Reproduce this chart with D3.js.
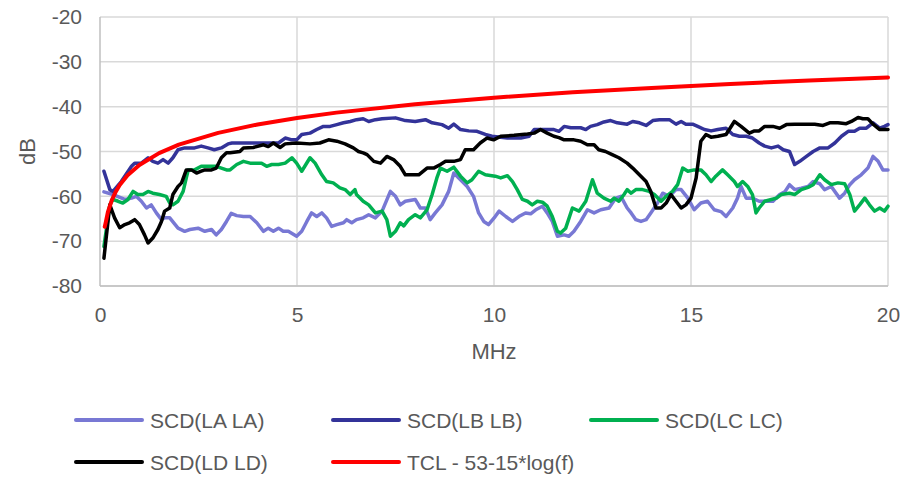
<!DOCTYPE html>
<html><head><meta charset="utf-8">
<script src="https://cdn.jsdelivr.net/npm/d3@7"></script>
<style>body{margin:0;background:#fff}svg{display:block}text{font-family:"Liberation Sans",Arial,sans-serif;fill:#595959}</style>
</head><body>
<svg id="c" width="903" height="480"></svg>
<script>
const xTicks = [0, 5, 10, 15, 20];
const yTicks = [-20, -30, -40, -50, -60, -70, -80];
const seriesNames = ["SCD(LA LA)", "SCD(LB LB)", "SCD(LC LC)", "SCD(LD LD)", "TCL - 53-15*log(f)"];
const seriesColors = ["#7878D4", "#333399", "#00B050", "#000000", "#FF0000"];

const scdLA = [[0.1,-59],[0.33,-59.6],[0.63,-60.7],[0.8,-60.4],[0.92,-60],[1.05,-61.1],[1.18,-62.6],[1.3,-61.9],[1.43,-63.7],[1.56,-65.2],[1.64,-64.8],[1.77,-64.8],[1.98,-67.1],[2.15,-67.8],[2.28,-67.4],[2.49,-67.1],[2.66,-67.8],[2.83,-67.4],[2.95,-68.6],[3.08,-67.4],[3.21,-65.6],[3.33,-63.8],
[3.47,-64.3],[3.64,-64.5],[3.81,-64.5],[3.98,-65.9],[4.15,-67.8],[4.27,-67.1],[4.40,-67.8],[4.53,-67.1],[4.65,-67.8],[4.78,-67.8],[4.99,-68.9],[5.12,-67.8],[5.25,-65.6],[5.37,-63.7],[5.50,-64.5],[5.63,-63.7],[5.75,-64.8],[5.88,-66.7],[6.01,-66.3],[6.18,-65.9],[6.26,-65.2],[6.39,-65.9],[6.51,-65.2],[6.68,-64.8],
[6.82,-64.1],[6.99,-64.8],[7.16,-63.3],[7.37,-58.9],[7.50,-60.0],[7.62,-61.9],[7.75,-61.1],[8.0,-60.7],[8.13,-62.6],[8.26,-62.6],[8.38,-65.2],[8.51,-63.7],[8.68,-61.9],[8.85,-58.9],[8.98,-54.8],[9.15,-56.3],[9.32,-57.8],[9.48,-60.0],[9.61,-63.7],[9.74,-65.6],[9.86,-66.3],[10.03,-64.5],
[10.13,-63.3],[10.30,-64.5],[10.47,-65.6],[10.63,-64.5],[10.80,-63.7],[10.93,-63.9],[11.06,-63.0],[11.23,-62.2],[11.35,-63.7],[11.48,-65.6],[11.61,-68.9],[11.78,-68.6],[11.90,-68.9],[12.03,-67.8],[12.20,-65.6],[12.37,-63.0],[12.54,-63.7],[12.71,-63.0],[12.92,-62.6],[13.09,-60.4],[13.22,-60.0],[13.38,-62.6],
[13.48,-63.7],[13.60,-65.2],[13.73,-65.6],[13.86,-65.2],[13.98,-63.7],[14.15,-61.5],[14.28,-59.3],[14.45,-60.0],[14.62,-58.5],[14.75,-58.5],[14.92,-60.4],[15.08,-63.0],[15.25,-61.5],[15.42,-61.1],[15.59,-63.0],[15.76,-63.4],[15.89,-64.5],[16.06,-62.6],[16.18,-60.4],[16.27,-57.8],[16.40,-60.4],[16.56,-60.4],[16.73,-61.1],
[16.87,-61.1],[17.08,-61.1],[17.25,-59.6],[17.38,-59.0],[17.50,-57.4],[17.63,-58.5],[17.80,-58.2],[17.97,-57.8],[18.10,-56.7],[18.27,-57.2],[18.39,-58.5],[18.56,-57.8],[18.77,-60.4],[18.90,-59.3],[19.03,-57.4],[19.15,-56.3],[19.32,-55.2],[19.49,-53.7],[19.62,-51.1],[19.75,-52.2],[19.87,-54.1],[20.0,-54.1]];

const scdLB = [[0.1,-54.4],[0.25,-58.5],[0.33,-58.9],[0.54,-56.7],[0.80,-53.3],[0.88,-52.6],[1.05,-52.6],[1.22,-51.4],[1.34,-52.2],[1.47,-52.6],[1.6,-51.8],[1.73,-52.6],[1.85,-51.4],[1.98,-49.6],[2.15,-49.2],[2.4,-49.2],[2.57,-48.8],[2.74,-49.2],[2.9,-49.6],[3.08,-49.2],[3.25,-48.3],
[3.35,-48.1],[3.64,-48.1],[3.98,-48.1],[4.32,-48.1],[4.53,-48.1],[4.70,-47.0],[4.87,-47.4],[4.99,-47.4],[5.12,-46.2],[5.33,-45.9],[5.50,-45.1],[5.67,-44.4],[5.84,-44.4],[6.01,-44.0],[6.18,-43.6],[6.35,-43.3],[6.51,-42.9],[6.68,-42.7],
[6.82,-43.3],[6.99,-42.9],[7.16,-42.7],[7.50,-42.5],[7.75,-43.1],[8.0,-43.3],[8.26,-42.9],[8.43,-43.6],[8.68,-44.0],[8.85,-44.8],[8.98,-43.9],[9.15,-45.1],[9.36,-45.4],[9.57,-45.5],[9.78,-46.2],[9.95,-46.6],
[10.34,-47.0],[10.68,-47.0],[10.89,-46.6],[11.02,-45.1],[11.52,-45.1],[11.65,-45.5],[11.78,-44.4],[11.95,-44.7],[12.20,-44.7],[12.33,-45.1],[12.45,-44.4],[12.62,-44.0],[12.79,-43.4],[12.96,-43.1],[13.13,-43.6],[13.38,-43.9],
[13.52,-43.3],[13.69,-43.6],[13.86,-44.2],[14.03,-43.1],[14.20,-42.9],[14.45,-42.9],[14.62,-43.9],[14.75,-43.3],[14.87,-43.9],[15.04,-43.9],[15.17,-44.4],[15.34,-45.1],[15.51,-45.4],[15.68,-45.1],[15.89,-44.8],[16.06,-46.2],[16.23,-46.6],[16.40,-46.6],[16.56,-47.0],[16.73,-48.1],
[16.87,-48.8],[17.04,-49.2],[17.21,-48.8],[17.34,-49.6],[17.50,-50.0],[17.63,-52.9],[17.76,-52.2],[17.93,-51.1],[18.10,-50.0],[18.27,-49.2],[18.48,-49.2],[18.65,-48.1],[18.82,-46.6],[18.99,-45.5],[19.15,-45.5],[19.28,-44.8],[19.45,-44.8],[19.62,-43.6],[19.79,-44.8],[19.91,-44.4],[20.0,-44.0]];

const scdLC = [[0.1,-71.2],[0.25,-61.9],[0.33,-60.7],[0.46,-61.1],[0.58,-61.5],[0.71,-60.7],[0.84,-58.9],[0.96,-59.6],[1.09,-59.6],[1.22,-58.9],[1.34,-59.3],[1.51,-59.6],[1.68,-60.0],[1.77,-61.5],[1.85,-61.9],[1.98,-61.1],[2.11,-58.9],[2.19,-55.9],[2.24,-54.1],[2.4,-54.1],[2.57,-53.3],[2.83,-53.3],[2.95,-53.3],[3.08,-53.7],[3.21,-54.1],
[3.30,-54.1],[3.47,-52.9],[3.64,-52.2],[3.81,-52.6],[3.98,-52.6],[4.10,-52.6],[4.23,-53.3],[4.36,-52.9],[4.53,-52.9],[4.70,-52.6],[4.87,-51.4],[4.99,-52.6],[5.12,-54.4],[5.33,-51.4],[5.46,-52.6],[5.63,-55.2],[5.75,-56.7],[5.92,-57.0],[6.09,-58.1],[6.22,-58.5],[6.35,-59.6],[6.47,-58.5],[6.51,-59.6],[6.68,-61.1],
[6.82,-61.9],[6.99,-63.7],[7.16,-63.3],[7.28,-65.2],[7.37,-68.9],[7.50,-67.8],[7.62,-65.9],[7.71,-66.6],[7.83,-65.2],[8.0,-64.1],[8.13,-64.8],[8.30,-63.0],[8.43,-59.6],[8.55,-55.9],[8.64,-53.7],[8.81,-54.4],[8.98,-53.5],[9.15,-55.5],[9.32,-57.0],[9.44,-56.3],[9.61,-54.4],[9.78,-55.2],[10.03,-55.5],
[10.17,-55.9],[10.34,-55.4],[10.47,-56.7],[10.59,-58.5],[10.72,-60.7],[10.85,-61.1],[10.97,-61.9],[11.10,-61.1],[11.23,-61.3],[11.35,-62.2],[11.48,-64.5],[11.61,-67.8],[11.69,-68.2],[11.82,-67.1],[11.99,-62.6],[12.16,-63.3],[12.33,-61.1],[12.50,-56.3],[12.62,-59.3],[12.79,-60.4],[12.96,-61.1],[13.05,-60.4],[13.17,-61.1],[13.30,-59.6],[13.38,-58.5],
[13.48,-59.3],[13.60,-58.5],[13.77,-58.5],[13.94,-58.9],[14.07,-59.6],[14.24,-61.1],[14.37,-60.0],[14.53,-58.9],[14.66,-57.4],[14.79,-53.7],[14.92,-54.4],[15.08,-54.1],[15.25,-54.1],[15.38,-55.2],[15.51,-56.7],[15.63,-55.5],[15.80,-54.1],[15.93,-55.2],[16.10,-56.7],[16.18,-57.8],[16.31,-56.7],[16.44,-57.8],[16.56,-59.6],[16.65,-63.7],[16.73,-62.6],
[16.87,-61.1],[17.04,-60.7],[17.17,-60.4],[17.29,-59.6],[17.50,-59.3],[17.63,-59.6],[17.80,-58.5],[17.97,-58.0],[18.10,-57.4],[18.27,-55.2],[18.39,-56.3],[18.56,-57.4],[18.73,-57.0],[18.90,-57.2],[19.03,-59.6],[19.15,-63.3],[19.28,-61.9],[19.41,-60.4],[19.53,-61.9],[19.66,-63.3],[19.79,-62.6],[19.91,-63.3],[20.0,-62.2]];

const scdLD = [[0.1,-73.8],[0.25,-61.9],[0.37,-64.8],[0.50,-67.0],[0.63,-66.3],[0.75,-65.9],[0.88,-65.2],[1.0,-66.3],[1.13,-68.6],[1.22,-70.4],[1.34,-69.3],[1.47,-67.4],[1.56,-65.6],[1.64,-63.3],[1.77,-62.6],[1.85,-59.6],[1.98,-57.8],[2.07,-57.0],[2.19,-54.1],[2.32,-54.1],[2.45,-54.8],[2.57,-54.4],[2.66,-54.1],[2.83,-54.1],[2.95,-53.7],[3.08,-51.4],[3.21,-50.3],
[3.30,-50.3],[3.55,-50.0],[3.64,-49.2],[3.89,-49.1],[4.15,-48.5],[4.27,-48.9],[4.40,-48.1],[4.57,-49.1],[4.70,-48.3],[4.99,-48.1],[5.33,-48.3],[5.58,-48.1],[5.80,-47.4],[6.01,-47.7],[6.22,-48.3],[6.43,-49.2],[6.56,-50.0],[6.68,-50.3],
[6.78,-50.7],[6.95,-52.2],[7.12,-52.6],[7.28,-51.1],[7.45,-51.8],[7.62,-53.3],[7.75,-55.2],[7.92,-55.2],[8.09,-55.2],[8.30,-53.7],[8.47,-53.7],[8.64,-52.9],[8.77,-52.2],[8.98,-52.2],[9.15,-51.8],[9.27,-49.6],[9.48,-49.6],[9.65,-48.1],[9.82,-47.0],[9.99,-47.4],
[10.17,-46.6],[10.51,-46.4],[10.85,-46.1],[11.02,-45.9],[11.18,-45.1],[11.35,-45.9],[11.52,-46.6],[11.65,-46.9],[11.78,-47.4],[12.03,-47.4],[12.20,-47.7],[12.37,-48.5],[12.54,-48.5],[12.66,-49.6],[12.83,-50.0],[13.0,-50.7],[13.17,-51.4],[13.38,-52.6],
[13.52,-53.7],[13.69,-55.2],[13.86,-56.7],[13.98,-58.9],[14.11,-62.6],[14.24,-62.6],[14.37,-61.5],[14.49,-59.6],[14.62,-61.1],[14.75,-62.6],[14.87,-61.9],[15.0,-60.4],[15.13,-55.9],[15.25,-47.7],[15.38,-46.2],[15.51,-46.8],[15.68,-46.6],[15.89,-46.2],[16.10,-43.3],[16.27,-44.4],[16.48,-45.9],[16.61,-45.4],[16.73,-45.4],
[16.87,-44.4],[17.08,-44.4],[17.25,-44.8],[17.42,-44.0],[17.63,-43.9],[17.88,-43.9],[18.14,-43.9],[18.35,-44.2],[18.52,-43.6],[18.73,-43.6],[18.94,-43.8],[19.07,-43.3],[19.24,-42.4],[19.36,-42.7],[19.49,-42.7],[19.62,-43.9],[19.79,-45.1],[20.0,-45.1]];

const tcl = [[0.12,-66.8],[0.15,-65.64],[0.2,-63.52],[0.3,-60.84],[0.4,-58.97],[0.5,-57.48],[0.7,-55.32],[1,-53.0],[1.5,-50.36],[2,-48.48],[3,-45.84],[4,-43.97],[5,-42.52],[6,-41.33],[8,-39.45],[10,-38.0],[12,-36.81],[14,-35.81],[16,-34.94],[18,-34.17],[20,-33.48]];

const allSeries = [scdLA, scdLB, scdLC, scdLD, tcl];

const svg = d3.select("#c");
const L = 100, R = 888, T = 17, B = 286;
const x = d3.scaleLinear().domain([0, 20]).range([L, R]);
const y = d3.scaleLinear().domain([-80, -20]).range([B, T]);

svg.append("g").selectAll("line").data(yTicks).join("line")
  .attr("x1", L).attr("x2", R).attr("y1", d => y(d)).attr("y2", d => y(d))
  .attr("stroke", "#D9D9D9").attr("stroke-width", 1.5);
svg.append("g").selectAll("line").data(xTicks.filter(d => d > 0)).join("line")
  .attr("x1", d => x(d)).attr("x2", d => x(d)).attr("y1", T).attr("y2", B)
  .attr("stroke", "#D9D9D9").attr("stroke-width", 1.5);
svg.append("line").attr("x1", L).attr("x2", L).attr("y1", T).attr("y2", B).attr("stroke", "#BFBFBF").attr("stroke-width", 1.5);
svg.append("line").attr("x1", L).attr("x2", R).attr("y1", B).attr("y2", B).attr("stroke", "#BFBFBF").attr("stroke-width", 1.5);

const yAxis = d3.axisLeft(y).tickValues(yTicks).tickFormat(d => String(d)).tickSize(0).tickPadding(18);
const gy = svg.append("g").attr("transform", `translate(${L},0)`).call(yAxis);
gy.select(".domain").remove();
gy.selectAll("text").style("font-size", "21px").attr("fill", "#595959").attr("font-family", null);

const xAxis = d3.axisBottom(x).tickValues(xTicks).tickFormat(d => String(d)).tickSize(0).tickPadding(21);
const gx = svg.append("g").attr("transform", `translate(0,${B})`).call(xAxis);
gx.select(".domain").remove();
gx.selectAll("text").style("font-size", "21px").attr("fill", "#595959").attr("font-family", null);

svg.append("text").attr("x", x(10)).attr("y", 359).attr("text-anchor", "middle").style("font-size", "22px").text("MHz");
svg.append("text").attr("transform", `translate(35,${y(-50)}) rotate(-90)`).attr("text-anchor", "middle").style("font-size", "22px").text("dB");

const line = d3.line().x(d => x(d[0])).y(d => y(d[1]));
svg.append("g").selectAll("path").data(allSeries).join("path")
  .attr("d", line).attr("fill", "none")
  .attr("stroke", (d, i) => seriesColors[i])
  .attr("stroke-width", (d, i) => i === 4 ? 4 : 3.5)
  .attr("stroke-linejoin", "round").attr("stroke-linecap", "round");

const legPos = [[76, 420], [333, 420], [591, 420], [76, 462], [333, 462]];
const lg = svg.append("g").selectAll("g").data(seriesNames).join("g")
  .attr("transform", (d, i) => `translate(${legPos[i][0]},${legPos[i][1]})`);
lg.append("line").attr("x1", 0).attr("x2", 66).attr("y1", 0).attr("y2", 0)
  .attr("stroke", (d, i) => seriesColors[i]).attr("stroke-width", 4).attr("stroke-linecap", "round");
lg.append("text").attr("x", 74).attr("y", 7.5).style("font-size", "21px").text(d => d);
</script>
</body></html>
